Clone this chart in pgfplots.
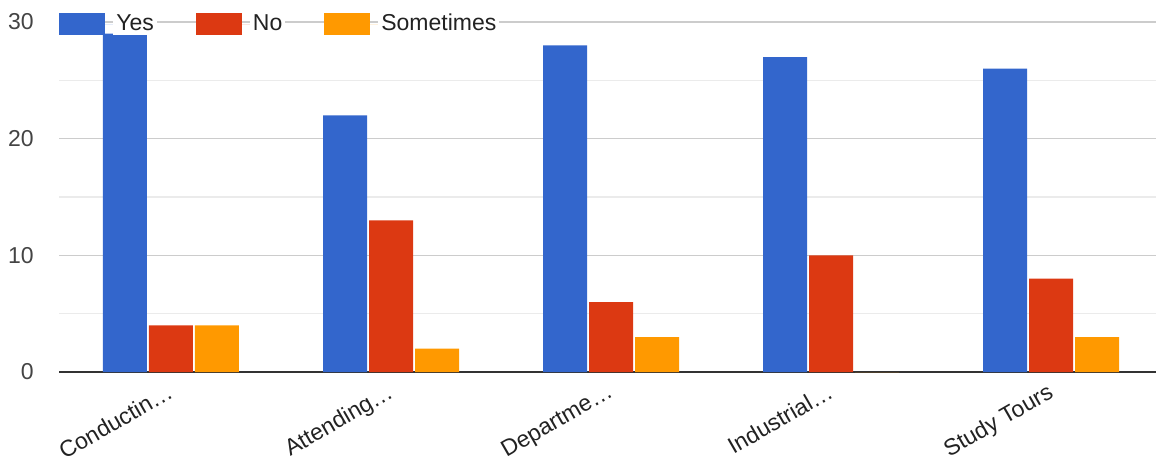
\documentclass[border=0pt]{standalone}
\usepackage{pgfplots}
\pgfplotsset{compat=1.18}
\usepackage{fontspec}
\setmainfont{Liberation Sans}
\definecolor{cyes}{HTML}{3366CC}
\definecolor{cno}{HTML}{DC3912}
\definecolor{csome}{HTML}{FF9900}
\definecolor{gmaj}{HTML}{CCCCCC}
\definecolor{gmin}{HTML}{EBEBEB}
\definecolor{axc}{HTML}{333333}
\definecolor{ylab}{HTML}{444444}
\definecolor{xlab}{HTML}{222222}
\begin{document}
\begin{tikzpicture}
\path[use as bounding box] (0,0) rectangle (578pt,231pt);
\begin{axis}[
  at={(29.5pt,45pt)}, anchor=south west,
  scale only axis, width=548.5pt, height=175pt,
  ybar=1pt, bar width=22pt,
  xmin=-0.509, xmax=4.477, ymin=0, ymax=30,
  xtick={0,1,2,3,4},
  xticklabels={Conductin…,Attending…,Departme…,Industrial…,Study Tours},
  ytick={0,10,20,30}, minor ytick={5,15,25},
  ymajorgrids, yminorgrids,
  major grid style={gmaj, line width=0.75pt},
  minor grid style={gmin, line width=0.75pt},
  axis x line*=bottom, axis y line*=left,
  x axis line style={axc, line width=1pt, -},
  y axis line style={draw=none},
  major tick length=0pt, minor tick length=0pt,
  tick style={draw=none},
  /pgf/number format/assume math mode=true,
  yticklabel style={anchor=east, inner sep=0pt, xshift=-12.5pt, text=ylab, font=\fontsize{11.5}{13}\selectfont},
  xticklabel style={rotate=30, anchor=north east, inner sep=0pt, yshift=-3pt, xshift=-4.5pt, text=xlab, font=\fontsize{11.5}{13}\selectfont},
  legend columns=-1,
  legend style={at={(0,1)}, anchor=west, yshift=-1pt, draw=none, fill=none, inner sep=0pt,
    font=\fontsize{11.5}{13}\selectfont, text=xlab,
    nodes={fill=white, inner xsep=1.5pt, inner ysep=1pt},
    /tikz/every even column/.append style={column sep=19.5pt}},
  legend image code/.code={\fill[#1,draw=none] (0pt,-5.5pt) rectangle (23pt,5.5pt); \path (0pt,0pt) -- (27pt,0pt);},
]
\addplot[fill=cyes, draw=none] coordinates {(0,29) (1,22) (2,28) (3,27) (4,26)};
\addplot[fill=cno, draw=none] coordinates {(0,4) (1,13) (2,6) (3,10) (4,8)};
\addplot[fill=csome, draw=none] coordinates {(0,4) (1,2) (2,3) (3,0) (4,3)};
\legend{Yes,No,Sometimes}
\end{axis}
\end{tikzpicture}
\end{document}
